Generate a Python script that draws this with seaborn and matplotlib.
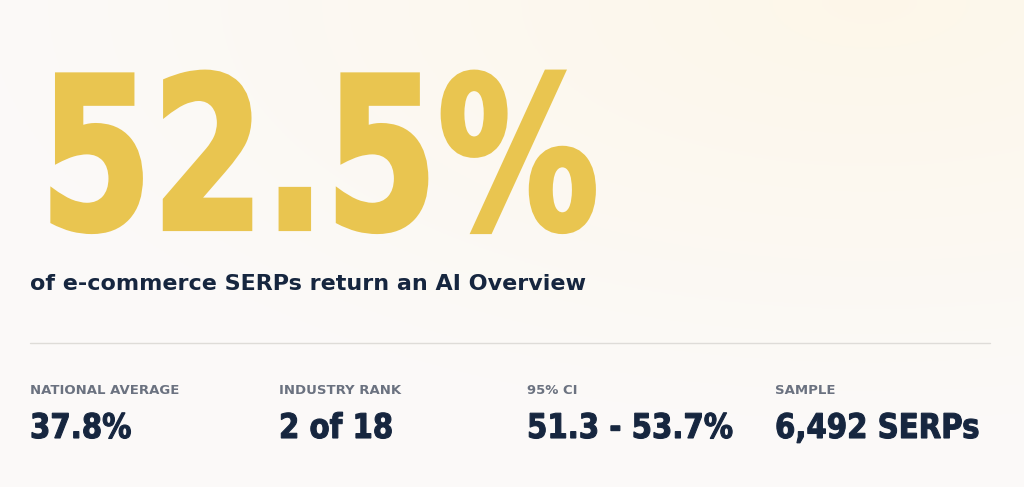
import numpy as np
import matplotlib.pyplot as plt
import seaborn as sns
from matplotlib.textpath import TextPath
from matplotlib.patches import PathPatch
from matplotlib.font_manager import FontProperties
from matplotlib.transforms import Affine2D

# ── Data ──────────────────────────────────────────────────────────
headline = '52.5%'
subtitle = 'of e-commerce SERPs return an AI Overview'
stat_labels = ['NATIONAL AVERAGE', 'INDUSTRY RANK', '95% CI', 'SAMPLE']
stat_values = ['37.8%', '2 of 18', '51.3 - 53.7%', '6,492 SERPs']

YELLOW = '#E9C550'
NAVY = '#16263F'
GREY = '#6B7280'

sns.set_theme(style='white')
plt.rcParams['font.family'] = ['DejaVu Sans']

W, H = 1024, 487
fig = plt.figure(figsize=(W / 100, H / 100), dpi=100)

# warm gradient background
bg = fig.add_axes([0, 0, 1, 1])
yy, xx = np.mgrid[0:1:200j, 0:1:400j]
glow = np.clip(1 - np.hypot(xx - 0.85, yy - 0.0) / 0.9, 0, 1)
base = np.array([0.985, 0.98, 0.975])
warm = np.array([0.995, 0.965, 0.90])
img = base[None, None, :] * (1 - glow[..., None] * 0.8) + warm[None, None, :] * (glow[..., None] * 0.8)
bg.imshow(img, extent=[0, W, H, 0], aspect='auto')
bg.set_xlim(0, W)
bg.set_ylim(H, 0)
bg.axis('off')

BOLD = FontProperties(family='DejaVu Sans', weight='bold')


def squashed_text(ax, x, y, s, size, sx, color, lw=0):
    """Draw condensed bold text as a path, baseline at (x, y) in pixels."""
    path = TextPath((0, 0), s, size=size, prop=BOLD)
    tr = Affine2D().scale(sx, -1).translate(x, y) + ax.transData
    ax.add_patch(PathPatch(path, transform=tr, facecolor=color,
                           edgecolor=color, lw=lw))


# ── Headline ──────────────────────────────────────────────────────
squashed_text(bg, 40, 229, headline, 212, 0.76, YELLOW, lw=3)
bg.text(30, 290, subtitle, fontsize=16, fontweight='semibold', color=NAVY,
        va='baseline', ha='left')

# divider
bg.plot([30, 990], [343, 343], color='#DEDCD8', lw=1)

# ── Stats row ─────────────────────────────────────────────────────
cols = [30, 279, 527, 775]
for x, lab, val in zip(cols, stat_labels, stat_values):
    bg.text(x, 394, lab, fontsize=9.5, color=GREY, va='baseline', ha='left',
            fontweight='semibold')
    squashed_text(bg, x, 438, val, 34, 0.86, NAVY, lw=0.8)

fig.savefig('out.png', dpi=100)
